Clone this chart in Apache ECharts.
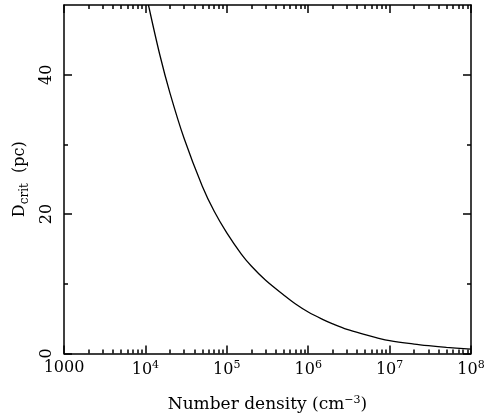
<!DOCTYPE html>
<html><head><meta charset="utf-8">
<script src="https://cdn.jsdelivr.net/npm/echarts@6/dist/echarts.min.js"></script>
<style>html,body{margin:0;padding:0;background:#fff}#c{width:488px;height:415px}</style>
</head><body><div id="c"></div>
<script>
// Number density (cm^-3)
const density = [1.09e4, 1.5e4, 2e4, 3e4, 5e4, 7e4, 1e5, 1.5e5, 2e5, 3e5, 5e5, 7e5,
                 1e6, 1.5e6, 2e6, 3e6, 5e6, 7e6, 1e7, 2e7, 3e7, 5e7, 1e8];
// D_crit (pc)
const dcrit = [50, 42.9, 37.4, 30.8, 24.0, 20.4, 17.3, 14.3, 12.55, 10.5, 8.4, 7.1,
               5.95, 4.9, 4.25, 3.45, 2.7, 2.25, 1.85, 1.35, 1.12, 0.88, 0.62];

const xMajorTicks = [1000, 1e4, 1e5, 1e6, 1e7, 1e8];
const xMinorMultipliers = [2, 3, 4, 5, 6, 7, 8, 9];
const yMajorTicks = [0, 20, 40];
const yMinorTicks = [10, 30];
const xRange = [1000, 1e8];
const yRange = [0, 50];

const xMinorTicks = [];
xMajorTicks.slice(0, -1).forEach(d => xMinorMultipliers.forEach(m => xMinorTicks.push(d * m)));

const FONT = 'DejaVu Serif';
const AX = { color: '#000', width: 1.5 };

function xLabel(v) {
  const e = Math.round(Math.log10(v));
  if (e === 3) return '{b|1000}';
  return '{b|10}{s|' + e + '}';
}
const xRich = {
  b: { fontFamily: FONT, fontSize: 16, color: '#000' },
  s: { fontFamily: FONT, fontSize: 11, color: '#000', padding: [0, 0, 10, 0] }
};

function xAx(pos, major, showLabel) {
  return {
    type: 'log', logBase: 10, min: xRange[0], max: xRange[1], position: pos,
    axisLine: { show: major, onZero: false, lineStyle: AX },
    axisTick: { show: true, inside: true, length: major ? 8 : 4,
                customValues: major ? xMajorTicks : xMinorTicks, lineStyle: AX },
    minorTick: { show: false },
    splitLine: { show: false },
    axisLabel: showLabel ? { show: true, customValues: xMajorTicks, formatter: xLabel, rich: xRich, margin: 6 }
                         : { show: false },
    name: showLabel ? '{t|Number density (cm}{s|−3}{t|)}' : '',
    nameLocation: 'middle', nameGap: 41,
    nameTextStyle: { rich: {
      t: { fontFamily: FONT, fontSize: 17, color: '#000' },
      s: { fontFamily: FONT, fontSize: 11, color: '#000', padding: [0, 0, 9, 0] }
    } }
  };
}
function yAx(pos, major, showLabel) {
  return {
    type: 'value', min: yRange[0], max: yRange[1], position: pos,
    axisLine: { show: major, onZero: false, lineStyle: AX },
    axisTick: { show: true, inside: true, length: major ? 8 : 4,
                customValues: major ? yMajorTicks : yMinorTicks, lineStyle: AX },
    splitLine: { show: false },
    axisLabel: showLabel ? { show: true, customValues: yMajorTicks, rotate: 90, margin: 9,
                             fontFamily: FONT, fontSize: 16, color: '#000' } : { show: false },
    name: showLabel ? '{t|D}{s|crit}{t|  (pc)}' : '',
    nameLocation: 'middle', nameGap: 32,
    nameTextStyle: { rich: {
      t: { fontFamily: FONT, fontSize: 16, color: '#000' },
      s: { fontFamily: FONT, fontSize: 12, color: '#000', padding: [10, 0, 0, 0] }
    } }
  };
}

const chart = echarts.init(document.getElementById('c'), null, { renderer: 'canvas' });
chart.setOption({
  animation: false,
  backgroundColor: '#fff',
  grid: { left: 64, right: 17, top: 5, bottom: 61.5, outerBoundsMode: 'none', containLabel: false },
  xAxis: [xAx('bottom', true, true), xAx('bottom', false, false), xAx('top', true, false), xAx('top', false, false)],
  yAxis: [yAx('left', true, true), yAx('left', false, false), yAx('right', true, false), yAx('right', false, false)],
  series: [{
    type: 'line', xAxisIndex: 0, yAxisIndex: 0,
    data: density.map((n, i) => [n, dcrit[i]]),
    showSymbol: false, smooth: 0.35,
    lineStyle: { color: '#000', width: 1.3 }
  }]
});
</script></body></html>
